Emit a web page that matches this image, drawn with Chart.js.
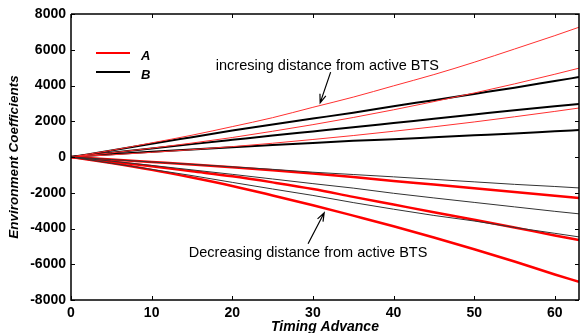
<!DOCTYPE html>
<html>
<head>
<meta charset="utf-8">
<script src="https://cdn.jsdelivr.net/npm/chart.js@4.4.1/dist/chart.umd.min.js"></script>
<style>
  html, body { margin: 0; padding: 0; background: #fff; }
  #wrap { width: 580px; height: 333px; }
</style>
</head>
<body>
<div id="wrap"><canvas id="grafico" width="580" height="333"></canvas></div>
<script>
// Timing Advance (eje x)
const ta = [0, 5, 10, 15, 20, 25, 30, 35, 40, 45, 50, 55, 60, 63];

// Serie A (rojo) - distancia creciente y decreciente
const aSube1 = [0, 370, 790, 1220, 1700, 2200, 2780, 3350, 3980, 4610, 5300, 6040, 6790, 7260];
const aSube2 = [0, 230, 490, 780, 1090, 1440, 1810, 2210, 2640, 3100, 3580, 4090, 4630, 4970];
const aSube3 = [0, 120, 260, 410, 580, 770, 980, 1200, 1440, 1690, 1960, 2250, 2550, 2740];
const aBaja1 = [0, -140, -280, -420, -570, -740, -920, -1120, -1340, -1540, -1750, -1960, -2170, -2290];
const aBaja2 = [0, -250, -520, -800, -1080, -1420, -1790, -2230, -2660, -3090, -3510, -3940, -4390, -4640];
const aBaja3 = [0, -340, -720, -1150, -1620, -2150, -2700, -3280, -3870, -4500, -5160, -5850, -6570, -6980];

// Serie B (negro)
const bSube1 = [0, 360, 740, 1110, 1480, 1820, 2150, 2480, 2840, 3180, 3530, 3880, 4250, 4470];
const bSube2 = [0, 240, 480, 720, 960, 1200, 1430, 1660, 1900, 2140, 2380, 2620, 2840, 2960];
const bSube3 = [0, 150, 290, 420, 550, 670, 790, 910, 990, 1100, 1210, 1320, 1440, 1510];
const bBaja1 = [0, -140, -280, -410, -550, -690, -850, -980, -1110, -1250, -1390, -1530, -1650, -1730];
const bBaja2 = [0, -230, -470, -720, -970, -1230, -1490, -1740, -2030, -2290, -2540, -2790, -3040, -3180];
const bBaja3 = [0, -350, -690, -1040, -1420, -1790, -2150, -2550, -2920, -3270, -3580, -3940, -4270, -4470];

const xTicks = [0, 10, 20, 30, 40, 50, 60];
const yTicks = [-8000, -6000, -4000, -2000, 0, 2000, 4000, 6000, 8000];

const FUENTE = "'Liberation Sans', Arial, sans-serif";

function puntos(serie) {
    return ta.map((x, i) => ({ x: x, y: serie[i] }));
}

function linea(serie, color, ancho) {
    return {
        data: puntos(serie),
        borderColor: color,
        borderWidth: ancho,
        pointRadius: 0,
        cubicInterpolationMode: 'monotone',
        fill: false
    };
}

// Marco, ticks interiores, leyenda y anotaciones
const extras = {
    id: 'extras',
    afterDraw(chart) {
        const ctx = chart.ctx;
        const a = chart.chartArea;
        const sx = chart.scales.x;
        const sy = chart.scales.y;
        ctx.save();

        // marco
        ctx.strokeStyle = '#000';
        ctx.lineWidth = 1.5;
        ctx.beginPath();
        ctx.moveTo(a.left, a.top);
        ctx.lineTo(a.right, a.top);
        ctx.lineTo(a.right, a.bottom);
        ctx.moveTo(a.left, a.top);
        ctx.lineTo(a.left, a.bottom);
        ctx.lineTo(a.right, a.bottom);
        ctx.stroke();

        // ticks hacia dentro
        ctx.lineWidth = 1;
        ctx.beginPath();
        xTicks.forEach(v => {
            const px = Math.round(sx.getPixelForValue(v)) + 0.5;
            ctx.moveTo(px, a.bottom); ctx.lineTo(px, a.bottom - 4);
            ctx.moveTo(px, a.top); ctx.lineTo(px, a.top + 4);
        });
        yTicks.forEach(v => {
            const py = Math.round(sy.getPixelForValue(v)) + 0.5;
            ctx.moveTo(a.left, py); ctx.lineTo(a.left + 4, py);
            ctx.moveTo(a.right, py); ctx.lineTo(a.right - 4, py);
        });
        ctx.stroke();

        // leyenda
        const leyenda = [['A', 'red', 2, 53], ['B', '#000', 2, 72]];
        leyenda.forEach(l => {
            ctx.strokeStyle = l[1];
            ctx.lineWidth = l[2];
            ctx.beginPath();
            ctx.moveTo(96, l[3]);
            ctx.lineTo(130, l[3]);
            ctx.stroke();
            ctx.fillStyle = '#000';
            ctx.font = 'italic bold 13px ' + FUENTE;
            ctx.textBaseline = 'middle';
            ctx.textAlign = 'left';
            ctx.fillText(l[0], 141, l[3] + 3);
        });

        // anotaciones
        ctx.font = '14.5px ' + FUENTE;
        ctx.fillStyle = '#000';
        ctx.textAlign = 'center';
        ctx.textBaseline = 'alphabetic';
        ctx.fillText('incresing distance from active BTS', sx.getPixelForValue(31.8), 70);
        ctx.fillText('Decreasing distance from active BTS', sx.getPixelForValue(29.4), 257);

        flecha(ctx, sx.getPixelForValue(32.2), sy.getPixelForValue(4750),
                    sx.getPixelForValue(30.9), sy.getPixelForValue(3030));
        flecha(ctx, sx.getPixelForValue(29.4), sy.getPixelForValue(-4850),
                    sx.getPixelForValue(31.4), sy.getPixelForValue(-3120));
        ctx.restore();
    }
};

function flecha(ctx, x1, y1, x2, y2) {
    const ang = Math.atan2(y2 - y1, x2 - x1);
    const largo = 9;
    ctx.strokeStyle = '#000';
    ctx.lineWidth = 1.2;
    ctx.beginPath();
    ctx.moveTo(x1, y1);
    ctx.lineTo(x2, y2);
    ctx.moveTo(x2 - largo * Math.cos(ang - 0.35), y2 - largo * Math.sin(ang - 0.35));
    ctx.lineTo(x2, y2);
    ctx.lineTo(x2 - largo * Math.cos(ang + 0.35), y2 - largo * Math.sin(ang + 0.35));
    ctx.stroke();
}

const ctx = document.getElementById('grafico').getContext('2d');
new Chart(ctx, {
    type: 'line',
    data: {
        datasets: [
            linea(bBaja1, '#333', 1),
            linea(bBaja2, '#333', 1),
            linea(bBaja3, '#333', 1),
            linea(aBaja1, 'red', 2.5),
            linea(aBaja2, 'red', 2.5),
            linea(aBaja3, 'red', 2.5),
            linea(aSube1, '#ff3030', 1),
            linea(aSube2, '#ff3030', 1),
            linea(aSube3, '#ff3030', 1),
            linea(bSube1, '#000', 2),
            linea(bSube2, '#000', 2),
            linea(bSube3, '#000', 2)
        ]
    },
    options: {
        responsive: false,
        animation: false,
        layout: { padding: { top: 14, right: 1, left: 0, bottom: 0 } },
        plugins: {
            legend: { display: false },
            tooltip: { enabled: false }
        },
        scales: {
            x: {
                type: 'linear',
                min: 0,
                max: 63,
                grid: { display: false, drawTicks: false },
                border: { display: false },
                afterBuildTicks(scale) { scale.ticks = xTicks.map(v => ({ value: v })); },
                ticks: {
                    color: '#000',
                    padding: 5,
                    callback: v => String(v),
                    font: { family: FUENTE, size: 14, weight: 'bold' }
                },
                title: {
                    display: true,
                    text: 'Timing Advance',
                    color: '#000',
                    padding: { top: 0, bottom: -3 },
                    font: { family: FUENTE, size: 14, weight: 'bold', style: 'italic' }
                },
                afterFit(scale) { scale.height = 33; }
            },
            y: {
                type: 'linear',
                min: -8000,
                max: 8000,
                grid: { display: false, drawTicks: false },
                border: { display: false },
                afterBuildTicks(scale) { scale.ticks = yTicks.map(v => ({ value: v })); },
                ticks: {
                    color: '#000',
                    padding: 5,
                    callback: v => String(v),
                    font: { family: FUENTE, size: 14, weight: 'bold' }
                },
                title: {
                    display: true,
                    text: 'Environment Coefficients',
                    color: '#000',
                    padding: { top: 6, bottom: 0 },
                    font: { family: FUENTE, size: 13.5, weight: 'bold', style: 'italic' }
                },
                afterFit(scale) { scale.width = 71; }
            }
        }
    },
    plugins: [extras]
});
</script>
</body>
</html>
